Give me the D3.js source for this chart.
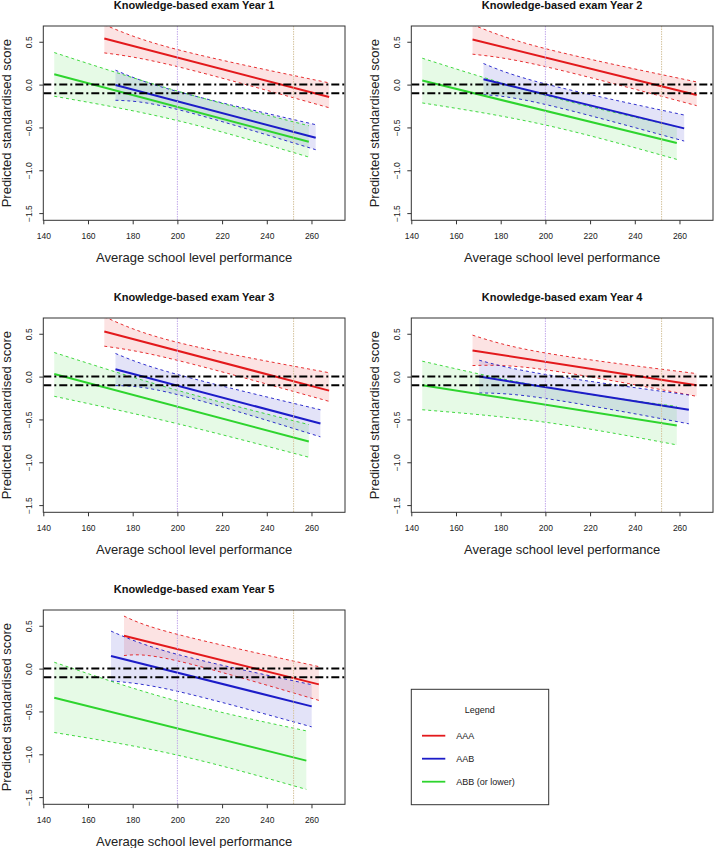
<!DOCTYPE html>
<html>
<head>
<meta charset="utf-8">
<script src="https://cdn.jsdelivr.net/npm/d3@7"></script>
<style>
  html, body { margin: 0; padding: 0; background: #ffffff; }
  svg { display: block; font-family: "Liberation Sans", Arial, Helvetica, sans-serif; }
</style>
</head>
<body>
<svg id="chart" width="714" height="848"></svg>
<script>
// ---------------- DATA ----------------
const panelTitles = ["Knowledge-based exam Year 1", "Knowledge-based exam Year 2", "Knowledge-based exam Year 3", "Knowledge-based exam Year 4", "Knowledge-based exam Year 5"];
const groups = ["AAA", "AAB", "ABB (or lower)"];
const groupColors = ["#e3191c", "#1c1cc8", "#2ed42e"];
const xTicks = [140, 160, 180, 200, 220, 240, 260];
const yTicks = [-1.5, -1.0, -0.5, 0.0, 0.5];
const xLimits = [145, 270];
const yLimits = [-1.5, 0.6];
const refLinesY = [0.0, -0.1];
const refLinesX = [200, 252];
const refLineXColors = ["#c2a9ea", "#d6c49e"];
const midX = 200;

// [panel][group]
const xStart = [[167.3, 172.3, 144.9], [167.4, 172.3, 144.9], [167.3, 172.3, 144.9], [167.4, 170.4, 144.9], [176.1, 170.3, 144.9]];
const xEnd   = [[267.9, 261.9, 258.8], [267.7, 262.1, 258.8], [267.9, 264.0, 258.8], [267.7, 264.2, 258.8], [263.3, 260.1, 257.7]];
const fitStart = [[0.538, -0.005, 0.121], [0.526, 0.062, 0.047], [0.527, 0.086, 0.031], [0.305, 0.0, -0.10], [0.383, 0.148, -0.34]];
const fitEnd   = [[-0.145, -0.62, -0.667], [-0.121, -0.511, -0.682], [-0.164, -0.547, -0.758], [-0.10, -0.387, -0.57], [-0.184, -0.441, -1.074]];
// confidence band: lower / upper at start, x=200 and end
const lowerStart = [[0.37, -0.183, -0.136], [0.355, -0.117, -0.214], [0.355, -0.105, -0.23], [0.129, -0.191, -0.387], [0.152, -0.145, -0.746]];
const lowerMid   = [[0.21, -0.29, -0.42], [0.21, -0.232, -0.472], [0.19, -0.21, -0.55], [0.08, -0.255, -0.533], [0.09, -0.265, -1.01]];
const lowerEnd   = [[-0.27, -0.76, -0.846], [-0.246, -0.659, -0.873], [-0.289, -0.703, -0.941], [-0.23, -0.551, -0.797], [-0.371, -0.68, -1.41]];
const upperStart = [[0.70, 0.168, 0.374], [0.70, 0.246, 0.308], [0.70, 0.27, 0.281], [0.484, 0.191, 0.18], [0.613, 0.4375, 0.074]];
const upperMid   = [[0.409, -0.08, -0.075], [0.42, 0.008, -0.125], [0.40, 0.025, -0.16], [0.276, 0.025, -0.123], [0.40, 0.166, -0.38]];
const upperEnd   = [[0.02, -0.468, -0.48], [0.031, -0.355, -0.49], [0.045, -0.387, -0.56], [0.035, -0.215, -0.348], [0.023, -0.1875, -0.727]];

// ---------------- LAYOUT ----------------
const panelLeft = [43.3, 411.3, 43.3, 411.3, 43.3];
const panelTop = [26, 26, 318, 318, 610];
const pw = 301.7, ph = 194.3;
const fontFam = '"Liberation Sans", Arial, Helvetica, sans-serif';

const svg = d3.select("#chart");

function ext(lim) { const r = lim[1] - lim[0]; return [lim[0] - 0.04 * r, lim[1] + 0.04 * r]; }

panelTitles.forEach((title, p) => {
  const L = panelLeft[p], T = panelTop[p];
  const x = d3.scaleLinear().domain(ext(xLimits)).range([L, L + pw]);
  const y = d3.scaleLinear().domain(ext(yLimits)).range([T + ph, T]);
  const g = svg.append("g");

  const clipId = "clip" + p;
  svg.append("clipPath").attr("id", clipId)
    .append("rect").attr("x", L).attr("y", T).attr("width", pw).attr("height", ph);
  const plot = g.append("g").attr("clip-path", `url(#${clipId})`);

  const bandData = groups.map((grp, k) => [
    { x: xStart[p][k], lo: lowerStart[p][k], hi: upperStart[p][k] },
    { x: midX, lo: lowerMid[p][k], hi: upperMid[p][k] },
    { x: xEnd[p][k], lo: lowerEnd[p][k], hi: upperEnd[p][k] }
  ]);

  const area = d3.area().x(d => x(d.x)).y0(d => y(d.lo)).y1(d => y(d.hi)).curve(d3.curveNatural);
  const loLine = d3.line().x(d => x(d.x)).y(d => y(d.lo)).curve(d3.curveNatural);
  const hiLine = d3.line().x(d => x(d.x)).y(d => y(d.hi)).curve(d3.curveNatural);

  groups.forEach((grp, k) => {
    plot.append("path").attr("d", area(bandData[k]))
      .attr("fill", groupColors[k]).attr("fill-opacity", 0.12).attr("stroke", "none");
  });
  groups.forEach((grp, k) => {
    [loLine, hiLine].forEach(fn => {
      plot.append("path").attr("d", fn(bandData[k]))
        .attr("fill", "none").attr("stroke", groupColors[k]).attr("stroke-width", 1)
        .attr("stroke-dasharray", "3,3").attr("stroke-opacity", 0.9);
    });
  });
  groups.forEach((grp, k) => {
    plot.append("line")
      .attr("x1", x(xStart[p][k])).attr("y1", y(fitStart[p][k]))
      .attr("x2", x(xEnd[p][k])).attr("y2", y(fitEnd[p][k]))
      .attr("stroke", groupColors[k]).attr("stroke-width", 2);
  });

  refLinesX.forEach((v, i) => {
    plot.append("line").attr("x1", x(v)).attr("x2", x(v)).attr("y1", T).attr("y2", T + ph)
      .attr("stroke", refLineXColors[i]).attr("stroke-width", 1).attr("stroke-dasharray", "1.5,1");
  });
  refLinesY.forEach(v => {
    plot.append("line").attr("x1", L).attr("x2", L + pw).attr("y1", y(v)).attr("y2", y(v))
      .attr("stroke", "#000").attr("stroke-width", 2).attr("stroke-dasharray", "8,3,2,3");
  });

  // box
  g.append("rect").attr("x", L).attr("y", T).attr("width", pw).attr("height", ph)
    .attr("fill", "none").attr("stroke", "#333").attr("stroke-width", 1);

  // x axis
  const xAxis = d3.axisBottom(x).tickValues(xTicks).tickSize(4).tickPadding(9).tickFormat(d3.format("d"));
  const xa = g.append("g").attr("transform", `translate(0,${T + ph})`).call(xAxis);
  xa.select(".domain").remove();
  xa.selectAll("line").attr("stroke", "#333");
  xa.selectAll("text").attr("font-size", 8.5).attr("font-family", fontFam).attr("fill", "#222");

  // y axis
  const yAxis = d3.axisLeft(y).tickValues(yTicks).tickSize(4).tickFormat(d3.format(".1f"));
  const ya = g.append("g").attr("transform", `translate(${L},0)`).call(yAxis);
  ya.select(".domain").remove();
  ya.selectAll("line").attr("stroke", "#333");
  ya.selectAll("text")
    .attr("font-size", 8.5).attr("font-family", fontFam).attr("fill", "#222")
    .attr("text-anchor", "middle")
    .attr("x", null).attr("dy", null)
    .attr("transform", "translate(-14,0) rotate(-90)")
    .attr("dy", "0.35em");

  // titles
  g.append("text").attr("x", L + pw / 2).attr("y", T - 21).attr("dy", "0.35em")
    .attr("text-anchor", "middle").attr("font-size", 11).attr("font-weight", "bold")
    .attr("fill", "#111").text(title);
  g.append("text").attr("x", L + pw / 2).attr("y", T + ph + 36.7).attr("dy", "0.35em")
    .attr("text-anchor", "middle").attr("font-size", 13).attr("fill", "#222")
    .text("Average school level performance");
  g.append("text")
    .attr("transform", `translate(${L - 36.8},${T + ph / 2}) rotate(-90)`)
    .attr("dy", "0.35em").attr("text-anchor", "middle").attr("font-size", 13).attr("fill", "#222")
    .text("Predicted standardised score");
});

// ---------------- LEGEND ----------------
const lg = svg.append("g");
lg.append("rect").attr("x", 411.3).attr("y", 689.3).attr("width", 137.4).attr("height", 115.4)
  .attr("fill", "#fff").attr("stroke", "#333").attr("stroke-width", 1);
lg.append("text").attr("x", 479.7).attr("y", 710).attr("dy", "0.35em").attr("text-anchor", "middle")
  .attr("font-size", 9).attr("fill", "#222").text("Legend");
const legendY = d3.scalePoint().domain(groups).range([735.7, 781.7]);
groups.forEach((grp, k) => {
  lg.append("line").attr("x1", 422).attr("x2", 445.3).attr("y1", legendY(grp)).attr("y2", legendY(grp))
    .attr("stroke", groupColors[k]).attr("stroke-width", 1.8);
  lg.append("text").attr("x", 456.3).attr("y", legendY(grp)).attr("dy", "0.35em")
    .attr("font-size", 9).attr("fill", "#222").text(grp);
});
</script>
</body>
</html>
